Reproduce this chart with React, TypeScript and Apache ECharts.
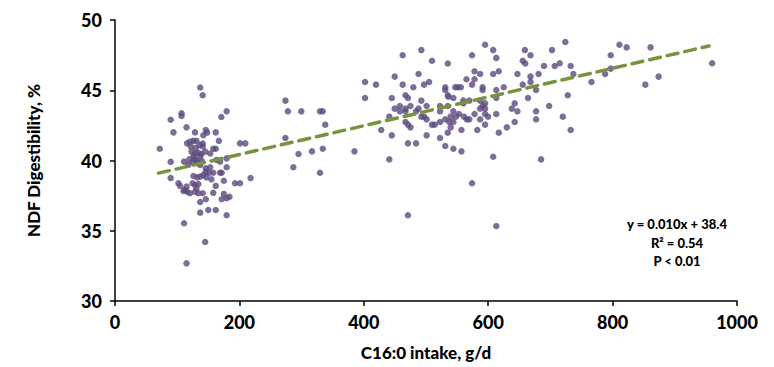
import React, { useEffect, useRef } from "react";
import * as echarts from "echarts";

// C16:0 intake (g/d) and NDF digestibility (%) observations
const lowIntakePoints: [number, number][] = [
  [137, 45.2], [141, 44.64], [107, 43.36], [107, 43.17], [89.5, 42.9], [179.5, 43.5], [171, 43.1],
  [94, 42.0], [115, 42.36], [128.6, 42.0], [146, 42.17], [148, 41.98], [142, 41.8], [162, 42.0],
  [167, 41.4], [116, 41.22], [120.6, 41.34], [126, 41.4], [131, 41.4], [141, 41.2], [141, 41.0],
  [201, 41.22], [209.5, 41.22], [72, 40.84], [158, 40.84], [162, 40.84], [123, 40.63], [129, 40.5],
  [134, 40.55], [139, 40.46], [145, 40.63], [153, 40.5], [126, 40.32], [137, 40.27], [119.5, 40.08],
  [125, 39.9], [111, 39.92], [89.5, 39.9], [134, 39.8], [137, 39.68], [163.5, 40.04], [169, 39.92],
  [179.5, 40.15], [146, 39.44], [153, 39.52], [146, 39.2], [151.6, 39.13], [179.5, 39.52], [158, 39.13],
  [169, 39.13], [171.5, 39.13], [142, 38.97], [147, 38.8], [132, 38.8], [137, 38.85], [126, 38.9],
  [89.5, 38.75], [155, 38.66], [175, 38.56], [134, 38.33], [124.6, 38.38], [102, 38.38], [104.5, 38.19],
  [115, 38.14], [128.6, 38.26], [131, 38.02], [193, 38.38], [201, 38.38], [218, 38.75], [162, 38.19],
  [112.5, 37.9], [116, 37.78], [120.6, 37.67], [128.6, 37.78], [134, 37.67], [110, 37.83], [141, 37.67],
  [175, 37.62], [171.5, 37.24], [179.5, 37.31], [184, 37.42], [146, 37.24], [137, 37.05], [150, 36.48],
  [162, 36.48], [137, 36.29], [179.5, 36.1], [111, 35.53], [145, 34.2], [115, 32.68],
  [122, 41.0], [130, 40.9], [136, 41.1], [128, 40.1], [132, 40.0], [140, 39.95], [118, 39.7], [158, 37.7],
];

const midIntakePoints: [number, number][] = [
  [462.5, 47.49], [492.5, 47.86], [509.6, 47.1], [535, 46.9], [488, 46.16], [449.7, 45.97], [402, 45.59],
  [419.6, 45.4], [462.5, 45.4], [479.6, 45.21], [496.8, 45.4], [505, 45.59], [531, 45.21], [531, 45.02],
  [535, 44.64], [274, 44.26], [402, 44.45], [445, 44.45], [467, 44.64], [471, 44.45], [492.5, 44.26],
  [278, 43.5], [299.5, 43.5], [329.6, 43.5], [334, 43.5], [449.7, 43.69], [458, 43.88], [467, 43.69],
  [475, 43.88], [458, 43.5], [467, 43.5], [484, 43.5], [488, 43.69], [501, 43.88], [522.5, 43.88],
  [535, 43.88], [522.5, 43.5], [441, 43.12], [492.5, 43.12], [497, 43.12], [501, 42.93], [467, 42.74],
  [471, 42.55], [475, 42.36], [509.6, 42.55], [514, 42.55], [522.5, 42.74], [531, 42.93], [537.5, 42.74],
  [338, 42.55], [428, 42.17], [274, 41.6], [445, 41.79], [501, 41.79], [522.5, 41.6], [535, 41.98],
  [471, 41.22], [484, 41.22], [531, 41.03], [334, 40.84], [295, 40.46], [316.7, 40.65], [385, 40.65],
  [286.7, 39.52], [329.6, 39.13], [441, 40.08], [471, 36.1], [536, 44.54],
];

const highIntakePoints: [number, number][] = [
  [595, 48.24], [608, 47.86], [613, 47.3], [574, 47.49], [659, 47.86], [668, 47.49], [702.6, 47.86],
  [724, 48.43], [811, 48.24], [797, 47.49], [655.5, 47.1], [659.6, 46.9], [689.7, 46.73], [707, 46.73],
  [715, 46.92], [732.6, 46.73], [578, 46.35], [587, 46.16], [608, 46.16], [616.9, 46.35], [647, 46.16],
  [668, 45.97], [668, 45.59], [681, 46.16], [737, 46.16], [788, 46.16], [565, 45.78], [578, 45.78],
  [574, 45.4], [547, 45.21], [551, 45.21], [556, 45.21], [591, 45.21], [591, 45.02], [655.5, 45.4],
  [625, 45.21], [613, 45.02], [677, 45.02], [766, 45.59], [544, 44.45], [560, 44.26], [569.6, 44.26],
  [560, 44.07], [587, 44.26], [595, 44.07], [591, 43.88], [587, 43.69], [595, 43.69], [613, 44.45],
  [664, 44.45], [728, 44.64], [642.6, 44.07], [638, 43.69], [647, 43.5], [677, 43.5], [698, 43.88],
  [544, 43.5], [553, 43.31], [548, 43.12], [539.7, 43.12], [561, 43.12], [565.6, 42.93], [569.6, 42.93],
  [578, 43.31], [595, 43.31], [599.7, 43.12], [587, 42.93], [613, 43.31], [677, 42.93], [720, 43.12],
  [544, 42.74], [539.7, 42.36], [557, 42.17], [582.5, 42.17], [595, 42.55], [617, 41.98], [630, 42.36],
  [642.6, 42.74], [732.6, 42.17], [544, 40.84], [557, 40.65], [608, 40.27], [685, 40.08], [574, 38.38],
  [613, 35.34], [822.6, 48.05], [861, 48.05], [797, 46.54], [960, 46.92], [852.6, 45.4], [874, 45.97],
];

const trendLine: [number, number][] = [
  [70, 39.1],
  [955, 48.15],
];

const equationLines = ["y = 0.010x + 38.4", "R\u00b2 = 0.54", "P < 0.01"];

const xTicks = { min: 0, max: 1000, interval: 200 };
const yTicks = { min: 30, max: 50, interval: 5 };

const FONT = "Lato, 'Open Sans', sans-serif";

export default function App() {
  const ref = useRef<HTMLDivElement>(null);

  useEffect(() => {
    if (!ref.current) return;
    const chart = echarts.init(ref.current, undefined, { renderer: "svg" });
    const allPoints = [...lowIntakePoints, ...midIntakePoints, ...highIntakePoints];
    chart.setOption({
      animation: false,
      backgroundColor: "#ffffff",
      grid: { left: 115, right: 37, top: 20, bottom: 66, containLabel: false },
      xAxis: {
        type: "value",
        min: xTicks.min,
        max: xTicks.max,
        interval: xTicks.interval,
        name: "C16:0 intake, g/d",
        nameLocation: "middle",
        nameGap: 43,
        nameTextStyle: { fontFamily: FONT, fontWeight: 900, fontSize: 17, color: "#000" },
        axisLine: { lineStyle: { color: "#000", width: 1.5 } },
        axisTick: { show: true, length: 5, lineStyle: { color: "#000", width: 1.5 } },
        axisLabel: {
          fontFamily: FONT,
          fontWeight: 900,
          fontSize: 18,
          color: "#000",
          margin: 12,
          formatter: (v: number) => String(v),
        },
        splitLine: { show: false },
      },
      yAxis: {
        type: "value",
        min: yTicks.min,
        max: yTicks.max,
        interval: yTicks.interval,
        name: "NDF Digestibility, %",
        nameLocation: "middle",
        nameGap: 73,
        nameRotate: 90,
        nameTextStyle: { fontFamily: FONT, fontWeight: 900, fontSize: 17, color: "#000" },
        axisLine: { show: true, lineStyle: { color: "#000", width: 1.5 } },
        axisTick: { show: true, length: 5, lineStyle: { color: "#000", width: 1.5 } },
        axisLabel: {
          fontFamily: FONT,
          fontWeight: 900,
          fontSize: 18,
          color: "#000",
          margin: 13,
          formatter: (v: number) => String(v),
        },
        splitLine: { show: false },
      },
      series: [
        {
          type: "scatter",
          data: allPoints,
          symbol: "circle",
          symbolSize: 6.5,
          itemStyle: { color: "#5E4A7D" },
          z: 2,
        },
        {
          type: "line",
          data: trendLine,
          symbol: "none",
          lineStyle: { color: "#77933C", width: 3.5, type: [11, 7], cap: "round" },
          z: 3,
        },
      ],
      graphic: equationLines.map((t, i) => ({
        type: "text",
        x: 677,
        y: 224 + i * 18.5,
        style: {
          text: t,
          fontFamily: FONT,
          fontWeight: 900,
          fontSize: 13,
          fill: "#000",
          textAlign: "center",
          textVerticalAlign: "middle",
        },
      })),
    });
    return () => chart.dispose();
  }, []);

  return (
    <div
      ref={ref}
      style={{ position: "fixed", left: 0, top: 0, width: 774, height: 367, background: "#fff" }}
    />
  );
}
